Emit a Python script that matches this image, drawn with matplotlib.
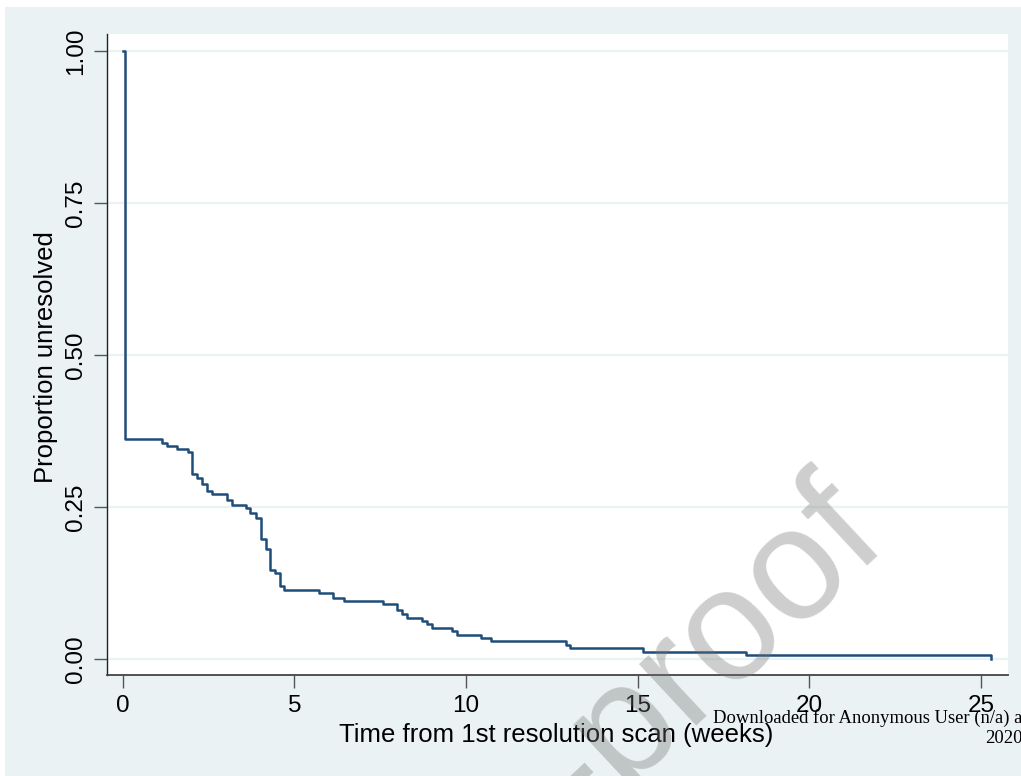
"""
Kaplan-Meier style step curve: proportion of cases still unresolved
against time from the 1st resolution scan (weeks), Stata s2color look
"""

import matplotlib.pyplot as plt
from matplotlib.patches import Rectangle

plt.rcParams['font.family'] = ['Liberation Sans', 'DejaVu Sans']

weeks = [0, 0.07, 1.15, 1.30, 1.59, 1.90, 2.03, 2.17, 2.32, 2.46, 2.59, 3.05, 3.17,
         3.59, 3.71, 3.87, 4.03, 4.17, 4.29, 4.45, 4.59, 4.71, 5.71, 6.14, 6.45,
         7.59, 8.00, 8.14, 8.29, 8.73, 8.87, 9.02, 9.60, 9.73, 10.45, 10.72,
         12.90, 13.03, 15.17, 18.15, 25.30]
unresolved = [1.0, 0.362, 0.356, 0.351, 0.345, 0.340, 0.305, 0.298, 0.288, 0.277, 0.271, 0.262, 0.254,
              0.249, 0.240, 0.232, 0.197, 0.181, 0.147, 0.141, 0.120, 0.113, 0.108, 0.101, 0.096,
              0.091, 0.080, 0.074, 0.068, 0.063, 0.058, 0.051, 0.046, 0.040, 0.035, 0.029,
              0.023, 0.018, 0.012, 0.007, 0.0]

x_ticks = [0, 5, 10, 15, 20, 25]
y_ticks = [0, 0.25, 0.5, 0.75, 1.0]
y_ticklabels = ['0.00', '0.25', '0.50', '0.75', '1.00']

W, H = 1021, 776
bg = '#EAF2F3'
navy = '#1f4d7a'

fig = plt.figure(figsize=(W / 100, H / 100), dpi=100, facecolor='white')
# stata graph region (leaves a thin white strip top and left)
fig.patches.append(Rectangle((5 / W, 0), 1, 1 - 7 / H, transform=fig.transFigure,
                             facecolor=bg, edgecolor='none', zorder=-1))

ax = fig.add_axes([107 / W, 101 / H, 901 / W, 641 / H])
ax.set_facecolor('white')

ax.step(weeks, unresolved, where='post', color=navy, lw=1.8, zorder=3)

ax.set_xlim(-0.457, 25.79)
ax.set_ylim(-0.0263, 1.028)
ax.set_xticks(x_ticks)
ax.set_yticks(y_ticks)
ax.set_yticklabels(y_ticklabels)
ax.grid(axis='y', color=bg, lw=1.6)
ax.set_axisbelow(True)

for s in ['top', 'right']:
    ax.spines[s].set_visible(False)
ax.spines['left'].set_color('#222222')
ax.spines['bottom'].set_color('#444444')
ax.spines['left'].set_linewidth(1.0)
ax.spines['bottom'].set_linewidth(1.3)

ax.tick_params(length=9.4, width=1.0, color='#555555', labelsize=17.5, pad=5)
for lbl in ax.get_yticklabels():
    lbl.set_rotation(90)
    lbl.set_va('center')

fig.text(556 / W, 1 - 742 / H, 'Time from 1st resolution scan (weeks)',
         ha='center', va='baseline', fontsize=18.5)
fig.text(46 / W, 1 - 357 / H, 'Proportion unresolved',
         rotation=90, ha='center', va='center', fontsize=18.5)

# page stamp and watermark from the source pdf
fig.text(713 / W, 1 - 723 / H, 'Downloaded for Anonymous User (n/a) at',
         family=['Liberation Serif', 'DejaVu Serif'], fontsize=13.4, va='baseline')
fig.text(985 / W, 1 - 743 / H, '2020',
         family=['Liberation Serif', 'DejaVu Serif'], fontsize=13.4, va='baseline')
fig.text(890 / W, 1 - 545 / H, 'Journal Pre-proof', rotation=43, rotation_mode='anchor',
         ha='right', va='baseline', fontsize=115, color='0.45', alpha=0.35, zorder=10)

plt.savefig('out.png', dpi=100, facecolor='white')
